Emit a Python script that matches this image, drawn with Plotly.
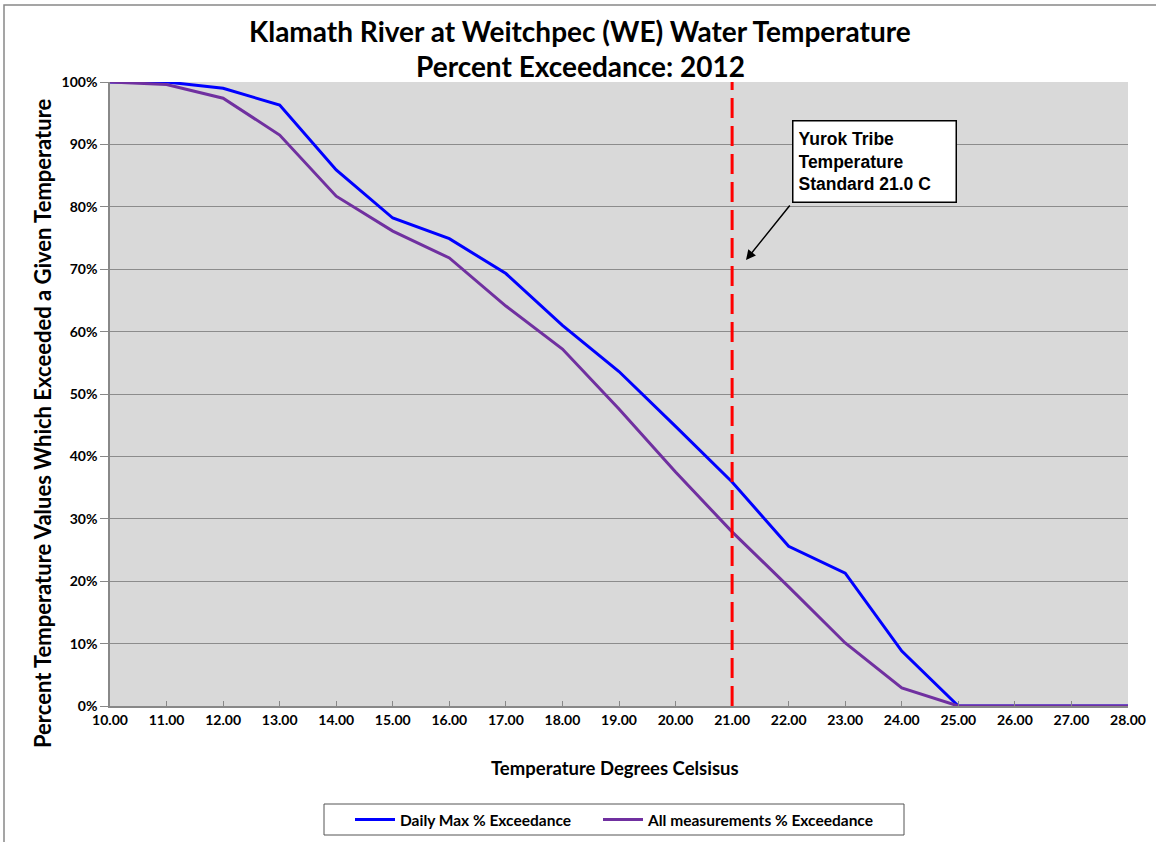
import plotly.graph_objects as go

temps = [10, 11, 12, 13, 14, 15, 16, 17, 18, 19, 20, 21, 22, 23, 24, 25, 26, 27, 28]
daily_max = [100, 100, 99.0, 96.3, 85.9, 78.2, 74.9, 69.3, 61.0, 53.6, 44.8, 35.9, 25.6, 21.3, 8.8, 0, 0, 0, 0]
all_meas = [100, 99.6, 97.4, 91.5, 81.7, 76.1, 71.8, 64.1, 57.2, 47.6, 37.5, 27.9, 19.1, 10.1, 2.9, 0, 0, 0, 0]
xticks = [10, 11, 12, 13, 14, 15, 16, 17, 18, 19, 20, 21, 22, 23, 24, 25, 26, 27, 28]
yticks = [0, 10, 20, 30, 40, 50, 60, 70, 80, 90, 100]
standard = 21.0
title_lines = ["Klamath River at Weitchpec (WE) Water Temperature", "Percent Exceedance: 2012"]
x_title = "Temperature Degrees Celsisus"
y_title = "Percent Temperature Values Which Exceeded a Given Temperature"

FONT = "Lato"
L, R, T, B = 110, 28, 82, 136
PW, PH = 1156 - L - R, 842 - T - B


def px_to_paper_x(px):
    return (px - L) / PW


def px_to_paper_y(py):
    return (842 - B - py) / PH


fig = go.Figure()
fig.add_trace(go.Scatter(x=temps, y=daily_max, mode="lines", name="<b>Daily Max % Exceedance</b>",
                         line=dict(color="#0000ff", width=3), legend="legend"))
fig.add_trace(go.Scatter(x=temps, y=all_meas, mode="lines", name="<b>All measurements % Exceedance</b>",
                         line=dict(color="#7030a0", width=3), legend="legend2"))

legend_common = dict(orientation="h", yanchor="top", borderwidth=0, bgcolor="rgba(0,0,0,0)",
                     font=dict(family=FONT, size=15.5), itemwidth=40)

fig.update_layout(
    width=1156, height=842,
    margin=dict(l=L, r=R, t=T, b=B, autoexpand=False),
    paper_bgcolor="white",
    plot_bgcolor="#d9d9d9",
    font=dict(family=FONT, color="black"),
    xaxis=dict(
        range=[10, 28], tickvals=xticks,
        ticktext=[f"<b>{v:.2f}</b>" for v in xticks],
        tickfont=dict(family=FONT, size=14),
        showgrid=False, zeroline=False, automargin=False,
        showline=True, linecolor="#888888", linewidth=1.5,
        ticks="inside", ticklen=5, tickcolor="#888888",
    ),
    yaxis=dict(
        range=[0, 100], tickvals=yticks,
        ticktext=[f"<b>{v}%</b>" for v in yticks],
        tickfont=dict(family=FONT, size=14),
        showgrid=True, gridcolor="#8c8c8c", gridwidth=1,
        zeroline=False, automargin=False,
        showline=True, linecolor="#888888", linewidth=1.5,
        ticks="outside", ticklen=8, tickcolor="#888888",
    ),
    legend=dict(x=px_to_paper_x(350), xanchor="left", y=px_to_paper_y(803), **legend_common),
    legend2=dict(x=px_to_paper_x(598), xanchor="left", y=px_to_paper_y(803), **legend_common),
    showlegend=True,
)

# Legend frame
fig.add_shape(type="rect", xref="paper", yref="paper",
              x0=px_to_paper_x(324), x1=px_to_paper_x(904),
              y0=px_to_paper_y(835), y1=px_to_paper_y(804),
              line=dict(color="#555555", width=1), fillcolor="white", layer="below")

# Title as two centered lines
fig.add_annotation(xref="paper", yref="paper", x=px_to_paper_x(580), y=px_to_paper_y(31),
                   text=f"<b>{title_lines[0]}</b>", showarrow=False, xanchor="center", yanchor="middle",
                   font=dict(family=FONT, size=28, color="black"))
fig.add_annotation(xref="paper", yref="paper", x=px_to_paper_x(580), y=px_to_paper_y(66),
                   text=f"<b>{title_lines[1]}</b>", showarrow=False, xanchor="center", yanchor="middle",
                   font=dict(family=FONT, size=28, color="black"))

# Axis titles
fig.add_annotation(xref="paper", yref="paper", x=px_to_paper_x(615), y=px_to_paper_y(768),
                   text=f"<b>{x_title}</b>", showarrow=False, xanchor="center", yanchor="middle",
                   font=dict(family=FONT, size=18.5, color="black"))
fig.add_annotation(xref="paper", yref="paper", x=px_to_paper_x(42), y=px_to_paper_y(423),
                   text=f"<b>{y_title}</b>", showarrow=False, xanchor="center", yanchor="middle",
                   textangle=-90, font=dict(family=FONT, size=22, color="black"))

# Red dashed standard line
fig.add_shape(type="line", xref="x", yref="paper", x0=standard, x1=standard, y0=0, y1=1,
              line=dict(color="#ff0000", width=3, dash="20px,8px"))

# Outer chart border
fig.add_shape(type="rect", xref="paper", yref="paper",
              x0=px_to_paper_x(4), x1=px_to_paper_x(1170),
              y0=px_to_paper_y(860), y1=px_to_paper_y(5),
              line=dict(color="#888888", width=1.5), fillcolor="rgba(0,0,0,0)", layer="below")

# Annotation box
fig.add_annotation(
    xref="x", yref="y", x=10 + (792 - 110) / 56.556, y=(706 - 120) / 6.24,
    xanchor="left", yanchor="top", showarrow=False,
    text="<b>Yurok Tribe<br>Temperature<br>Standard 21.0 C</b>",
    align="left", font=dict(family="Liberation Sans", size=17.5, color="black"),
    bgcolor="white", bordercolor="black", borderwidth=1.5, borderpad=5,
    width=152, height=70, valign="middle",
)
# Arrow
fig.add_annotation(
    xref="x", yref="y", axref="x", ayref="y",
    x=10 + (746 - 110) / 56.556, y=(706 - 260) / 6.24,
    ax=10 + (791 - 110) / 56.556, ay=(706 - 204) / 6.24,
    text="", showarrow=True, arrowhead=2, arrowsize=1.3, arrowwidth=1.5, arrowcolor="black",
)

fig.write_html("out.html", config={"displayModeBar": False},
               post_script="document.body.style.margin='0';document.body.style.overflow='hidden';")
